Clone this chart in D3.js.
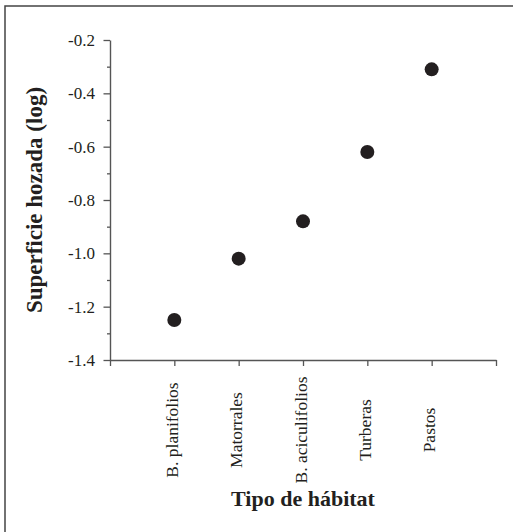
<!DOCTYPE html>
<html>
<head>
<meta charset="utf-8">
<script src="https://cdn.jsdelivr.net/npm/d3@7"></script>
<style>
  html, body { margin: 0; padding: 0; background: #fff; }
  svg { display: block; }
</style>
</head>
<body>
<script>
// Habitat types and log-transformed rooted area per habitat
const habitats = ["B. planifolios", "Matorrales", "B. aciculifolios", "Turberas", "Pastos"];
const rootedArea = [-1.25, -1.02, -0.88, -0.62, -0.31];

// Y axis tick values (labelled majors and unlabelled minors)
const yMajorTicks = [-1.4, -1.2, -1.0, -0.8, -0.6, -0.4, -0.2];
const yMinorTicks = [-1.3, -1.1, -0.9, -0.7, -0.5, -0.3];

const width = 513, height = 532;
const serif = "'Liberation Serif', 'Times New Roman', serif";
const ink = "#231f20";

const svg = d3.select("body").append("svg")
  .attr("width", width).attr("height", height);

// outer frame
svg.append("rect")
  .attr("x", 5).attr("y", 6)
  .attr("width", width + 20).attr("height", height + 20)
  .attr("fill", "none").attr("stroke", "#444").attr("stroke-width", 1.5);

const x = d3.scaleLinear().domain([0, habitats.length + 1]).range([110, 496]);
const y = d3.scaleLinear().domain([-1.4, -0.2]).range([360, 40]);

const axisColor = "#555";

// minor y ticks
svg.append("g")
  .attr("transform", `translate(${x(0)},0)`)
  .call(d3.axisLeft(y).tickValues(yMinorTicks).tickSize(3).tickSizeOuter(0).tickFormat(""))
  .call(g => g.select(".domain").remove())
  .call(g => g.selectAll("line").attr("stroke", axisColor).attr("stroke-width", 1.3));

// major y ticks with labels
svg.append("g")
  .attr("transform", `translate(${x(0)},0)`)
  .call(d3.axisLeft(y).tickValues(yMajorTicks).tickSize(6.5).tickSizeOuter(0)
    .tickPadding(8.5).tickFormat(d => d.toFixed(1)))
  .call(g => g.select(".domain").attr("stroke", axisColor).attr("stroke-width", 1.4))
  .call(g => g.selectAll("line").attr("stroke", axisColor).attr("stroke-width", 1.3))
  .call(g => g.selectAll("text")
    .style("font-family", serif)
    .style("font-size", "17px").attr("fill", ink));

// x axis: category ticks plus end ticks
const xTicks = d3.range(0, habitats.length + 2);
svg.append("g")
  .attr("transform", `translate(0,${y(-1.4)})`)
  .call(d3.axisBottom(x).tickValues(xTicks).tickSize(6).tickSizeOuter(0).tickFormat(""))
  .call(g => g.select(".domain").attr("stroke", axisColor).attr("stroke-width", 1.4))
  .call(g => g.selectAll("line").attr("stroke", axisColor).attr("stroke-width", 1.3));

// rotated category labels
svg.append("g")
  .selectAll("text")
  .data(habitats)
  .join("text")
  .attr("transform", (d, i) => `translate(${x(i + 1) + 3.5},430) rotate(-90)`)
  .attr("text-anchor", "middle")
  .style("font-family", serif)
  .style("font-size", "17.5px")
  .attr("fill", ink)
  .text(d => d);

// data points
svg.append("g")
  .selectAll("circle")
  .data(rootedArea)
  .join("circle")
  .attr("cx", (d, i) => x(i + 1))
  .attr("cy", d => y(d))
  .attr("r", 7)
  .attr("fill", ink);

// axis titles
svg.append("text")
  .attr("x", (x(0) + x(habitats.length + 1)) / 2)
  .attr("y", 506)
  .attr("text-anchor", "middle")
  .style("font-family", serif)
  .style("font-weight", "bold")
  .style("font-size", "22px")
  .attr("fill", ink)
  .text("Tipo de hábitat");

svg.append("text")
  .attr("transform", `translate(42,${(y(-1.4) + y(-0.2)) / 2}) rotate(-90)`)
  .attr("text-anchor", "middle")
  .style("font-family", serif)
  .style("font-weight", "bold")
  .style("font-size", "23px")
  .attr("fill", ink)
  .text("Superficie hozada (log)");
</script>
</body>
</html>
